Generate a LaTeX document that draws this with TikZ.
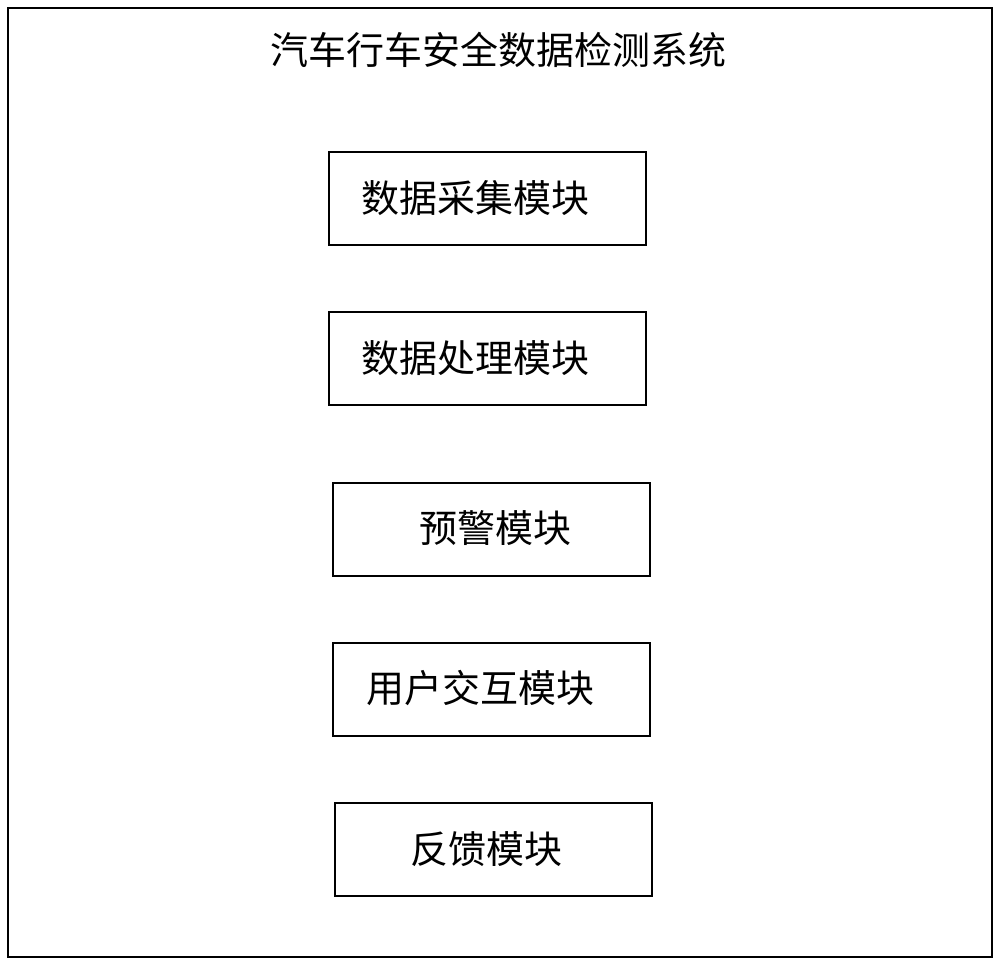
\documentclass[tikz,border=0pt]{standalone}
\usepackage{fontspec}
\newfontfamily\cjk{Noto Sans CJK SC}
\usetikzlibrary{positioning}

\tikzset{
  modbox/.style={draw, line width=1pt, minimum width=158.5pt, minimum height=46.5pt, inner sep=0pt},
  modtext/.style={font=\cjk\fontsize{19pt}{23pt}\selectfont, inner sep=0pt}
}

\begin{document}
\begin{tikzpicture}[x=0.5pt, y=-0.5pt]
  \useasboundingbox (0,0) rectangle (1000,964);
  \draw[line width=1pt] (8,8) rectangle (992,957);
  \node[modtext] (title) at (498,50) {汽车行车安全数据检测系统};

  % Modules
  \node[modbox] (m1) at (487,198) {};
  \node[modbox] (m2) at (487,358) {};
  \node[modbox] (m3) at (491,529) {};
  \node[modbox] (m4) at (491,689) {};
  \node[modbox] (m5) at (493,849) {};

  \node[modtext] (t1) at (475,198) {数据采集模块};
  \node[modtext] (t2) at (475,358) {数据处理模块};
  \node[modtext] (t3) at (495,528) {预警模块};
  \node[modtext] (t4) at (480,688) {用户交互模块};
  \node[modtext] (t5) at (486,849) {反馈模块};
\end{tikzpicture}
\end{document}
